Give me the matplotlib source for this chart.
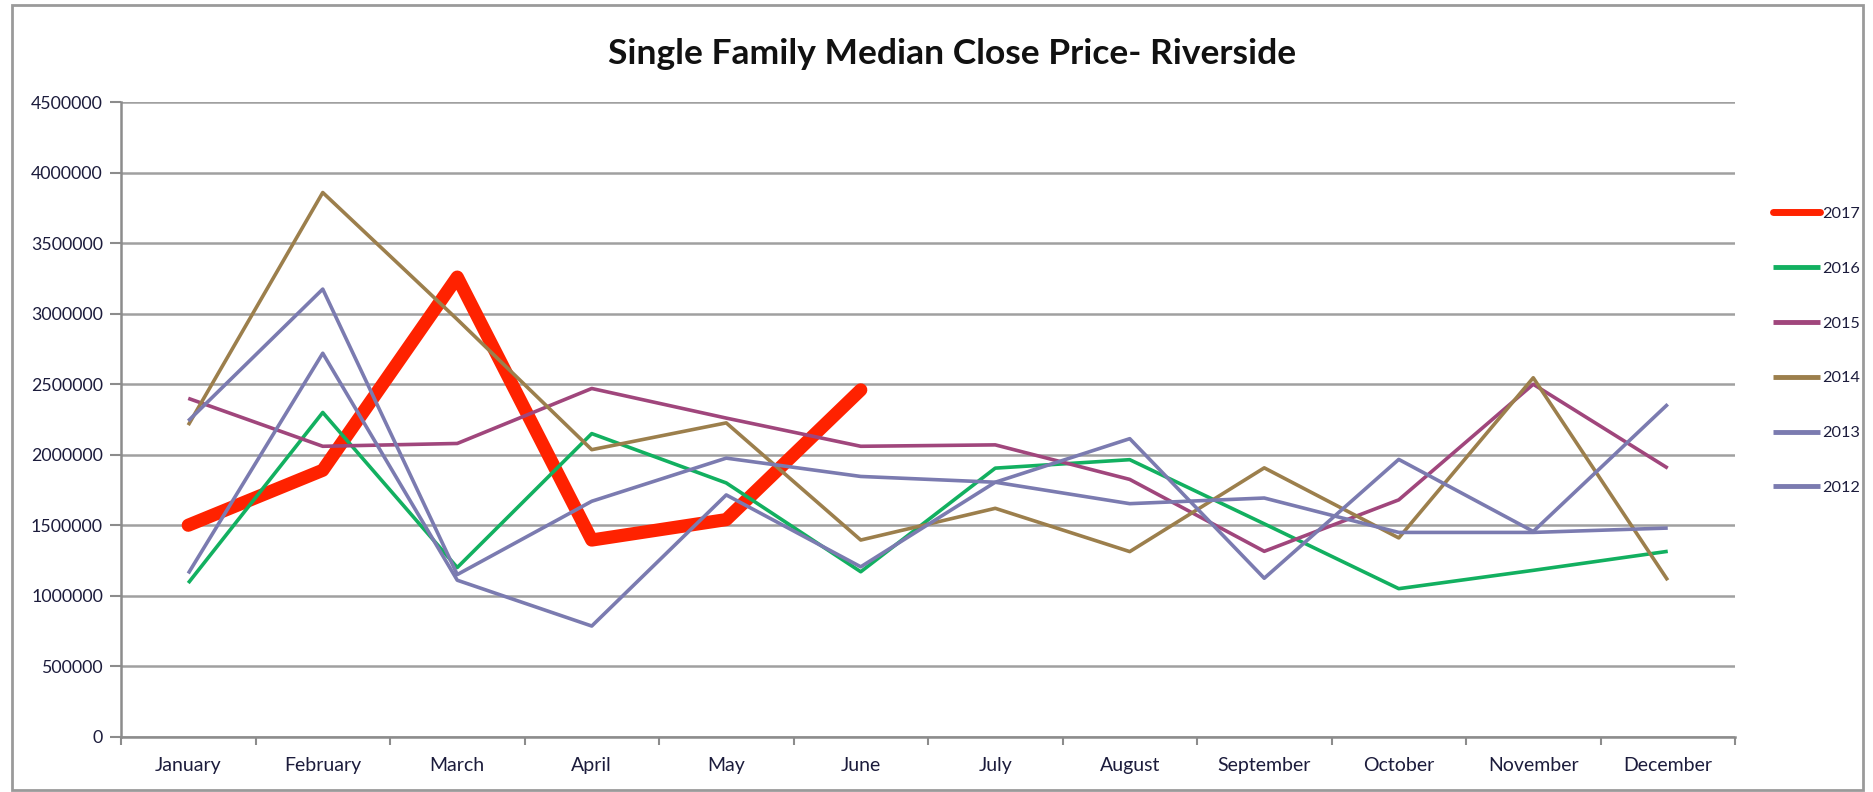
import matplotlib.pyplot as plt
from matplotlib.patches import Rectangle

months = ["January", "February", "March", "April", "May", "June",
          "July", "August", "September", "October", "November", "December"]

y2017 = [1500000, 1890000, 3260000, 1395000, 1540000, 2460000]
y2016 = [1090000, 2300000, 1200000, 2150000, 1800000, 1170000,
         1905000, 1965000, 1510000, 1050000, 1180000, 1315000]
y2015 = [2400000, 2060000, 2080000, 2470000, 2260000, 2060000,
         2070000, 1825000, 1315000, 1680000, 2500000, 1905000]
y2014 = [2210000, 3860000, 2960000, 2036000, 2226000, 1395000,
         1620000, 1313000, 1907000, 1410000, 2546000, 1110000]
y2013 = [2240000, 3175000, 1150000, 1670000, 1976000, 1846000,
         1805000, 2114000, 1124000, 1967000, 1456000, 2358000]
y2012 = [1158000, 2720000, 1110000, 785000, 1715000, 1205000,
         1805000, 1653000, 1693000, 1449000, 1449000, 1480000]

years = ["2017", "2016", "2015", "2014", "2013", "2012"]
series = [y2017, y2016, y2015, y2014, y2013, y2012]
colors = ["#ff2200", "#12b060", "#a0467c", "#9c7f4c", "#7b7bb0", "#7b7bb0"]
widths = [9.5, 2.6, 2.6, 2.6, 2.6, 2.6]

plt.rcParams["font.family"] = ["Lato", "DejaVu Sans"]

fig = plt.figure(figsize=(18.73, 7.92), dpi=100)
ax = fig.add_axes([121 / 1873, 1 - 736.7 / 792, (1735 - 121) / 1873, (736.7 - 102.3) / 792])

x = list(range(len(months)))
for yr, vals, c, lw in zip(years, series, colors, widths):
    ax.plot(x[:len(vals)], vals, color=c, lw=lw, solid_joinstyle="round",
            solid_capstyle="round" if lw > 5 else "butt", label=yr)

ax.set_xlim(-0.5, 11.5)
ax.set_ylim(0, 4500000)
ax.set_yticks(range(0, 4500001, 500000))
ax.set_yticklabels([str(v) for v in range(0, 4500001, 500000)])
ax.set_xticks(x)
ax.set_xticklabels(months)
ax.set_xticks([i - 0.5 for i in range(13)], minor=True)
ax.tick_params(axis="x", which="major", length=0, pad=14.5, labelsize=14, labelcolor="#1c1c3c")
ax.tick_params(axis="x", which="minor", length=6, width=1.5, color="#8c8c8c")
ax.tick_params(axis="y", length=8, width=1.5, color="#8c8c8c", pad=5, labelsize=12.8, labelcolor="#1c1c3c")

ax.grid(axis="y", color="#a0a0a0", lw=1.8)
ax.set_axisbelow(True)
for s in ["top", "right"]:
    ax.spines[s].set_visible(False)
for s in ["left", "bottom"]:
    ax.spines[s].set_color("#8c8c8c")
    ax.spines[s].set_linewidth(1.8)

# legend on the right
leg = ax.legend(loc="upper left", bbox_to_anchor=(1773 / 1873, 1 - 206.5 / 792),
                bbox_transform=fig.transFigure, frameon=False, fontsize=11.7,
                handlelength=2.9, handletextpad=0.1, labelspacing=2.49,
                borderaxespad=0, borderpad=0)
for t in leg.get_texts():
    t.set_color("#1c1c3c")
leg.get_lines()[0].set_linewidth(5)
for ln in leg.get_lines()[1:]:
    ln.set_linewidth(3.5)

fig.text(952 / 1873, 1 - 54 / 792, "Single Family Median Close Price- Riverside",
         ha="center", va="center", fontsize=25.5, fontweight="bold", color="#111111")

# outer chart frame
fig.patches.append(Rectangle((12 / 1873, 2 / 792), (1863 - 12) / 1873, (787 - 2) / 792,
                             transform=fig.transFigure, fill=False,
                             edgecolor="#9a9a9a", lw=2))

fig.savefig("out.png", dpi=100)
